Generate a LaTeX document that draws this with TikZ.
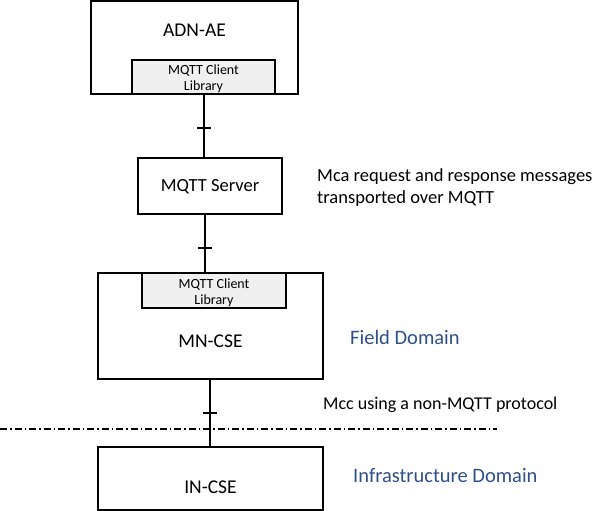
\documentclass[tikz,border=0pt]{standalone}
\usepackage{fontspec}
\setmainfont{Carlito}
\usetikzlibrary{calc}
\definecolor{domblue}{HTML}{2F4F8A}
\definecolor{libgray}{HTML}{F0F0F0}
\begin{document}
\begin{tikzpicture}[x=1pt,y=-1pt,
  box/.style={draw=black, line width=1.3pt, rectangle, inner sep=0pt, anchor=center},
  libbox/.style={box, fill=libgray, line width=1.1pt},
  bigtxt/.style={font=\fontsize{19.5}{23}\selectfont, inner sep=0pt},
  midtxt/.style={font=\fontsize{18.5}{22}\selectfont, inner sep=0pt, align=left, anchor=west},
  libtxt/.style={font=\fontsize{14}{16}\selectfont, inner sep=0pt, align=center},
  domtxt/.style={font=\fontsize{20.5}{24}\selectfont, inner sep=0pt, anchor=west, text=domblue},
  conn/.style={line width=1.4pt},
  tickmark/.style={line width=1.4pt}]
\useasboundingbox (0,0) rectangle (600,511);
% boxes
\node[box, minimum width=207pt, minimum height=93pt] (adn) at (194.5,47.5) {};
\node[bigtxt] (adntxt) at (194.5,30) {ADN-AE};
\node[libbox, minimum width=143pt, minimum height=34pt] (lib1) at (203.5,77) {};
\node[libtxt] (lib1txt) at (203.5,79) {MQTT Client\\Library};
\node[box, minimum width=144pt, minimum height=56pt] (srv) at (210,186) {};
\node[font=\fontsize{18.5}{22}\selectfont, inner sep=0pt] (srvtxt) at (210,187) {MQTT Server};
\node[box, minimum width=225pt, minimum height=106pt] (mn) at (210.5,326) {};
\node[libbox, minimum width=144pt, minimum height=35pt] (lib2) at (214,290.5) {};
\node[libtxt] (lib2txt) at (214,293) {MQTT Client\\Library};
\node[bigtxt] (mntxt) at (210.5,341) {MN-CSE};
\node[box, minimum width=225pt, minimum height=63pt] (in) at (210.5,478.5) {};
\node[bigtxt] (intxt) at (210.5,487) {IN-CSE};
% texts
\node[midtxt] (mca) at (317,188) {Mca request and response messages\\transported over MQTT};
\node[domtxt] (field) at (350,337) {Field Domain};
\node[midtxt, font=\fontsize{18}{21}\selectfont] (mcc) at (323,405) {Mcc using a non-MQTT protocol};
\node[domtxt] (infra) at (353,476) {Infrastructure Domain};
% connectors
\coordinate (c1a) at ($(lib1.south)+(0.5,0)$);
\draw[conn] (c1a) -- coordinate[pos=0.53] (t1) (c1a |- srv.north);
\draw[tickmark] ($(t1)+(-7,0)$) -- ($(t1)+(7,0)$);
\coordinate (c2a) at ($(srv.south)+(-5,0)$);
\draw[conn] (c2a) -- coordinate[pos=0.58] (t2) (c2a |- mn.north);
\draw[tickmark] ($(t2)+(-7,0)$) -- ($(t2)+(7,0)$);
\coordinate (c3a) at ($(mn.south)+(-0.5,0)$);
\draw[conn] (c3a) -- coordinate[pos=0.5] (t3) (c3a |- in.north);
\draw[tickmark] ($(t3)+(-7,0)$) -- ($(t3)+(7,0)$);
% domain boundary
\coordinate (dl) at (0,429);
\coordinate (dr) at (497,429);
\draw[line width=1.1pt, dash pattern=on 7pt off 3pt on 1.5pt off 3pt] (dl) -- (dr);
\end{tikzpicture}
\end{document}
